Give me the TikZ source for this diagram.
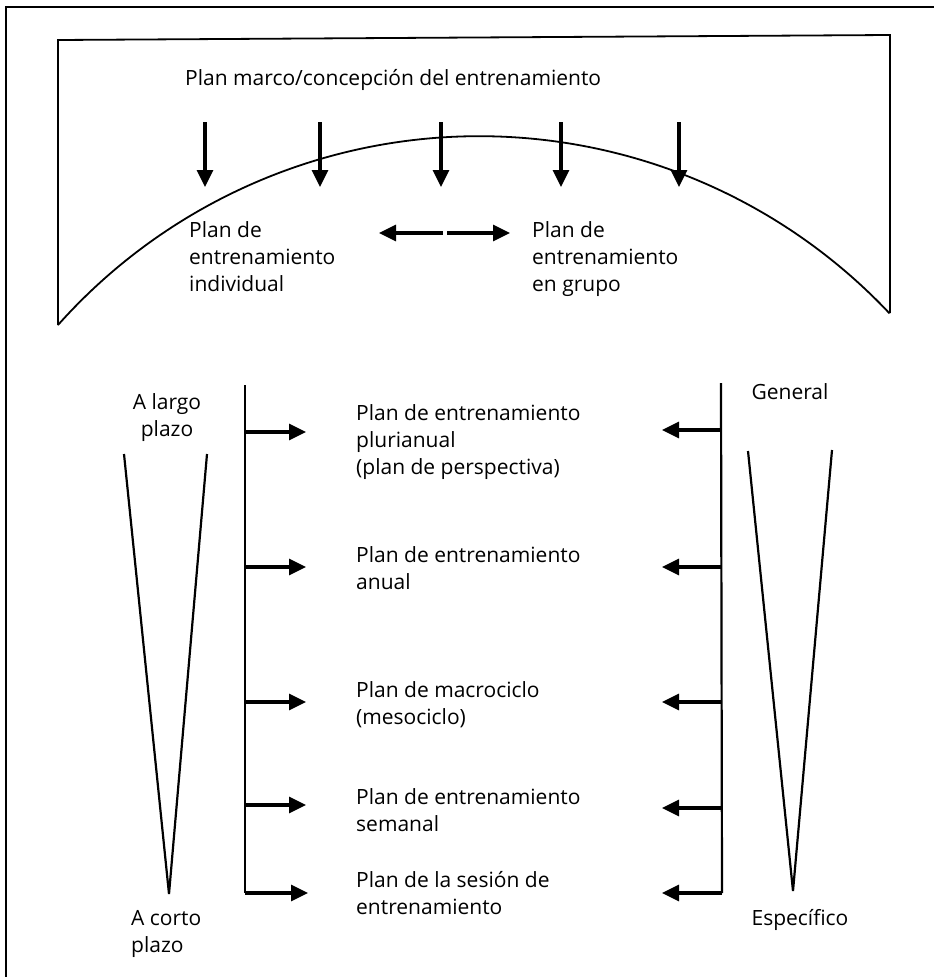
\documentclass[tikz,border=0pt]{standalone}
\usepackage{fontspec}
\setmainfont{Open Sans}
\usetikzlibrary{arrows.meta}
\begin{document}
\begin{tikzpicture}[x=1pt,y=-1pt,
  frame/.style={line width=1.4pt},
  panel/.style={line width=1.8pt},
  bar/.style={line width=2.2pt},
  flow/.style={line width=3.2pt,-{Triangle[length=17pt,width=16pt]}},
  lbl/.style={font=\fontsize{21}{27}\selectfont, inner sep=0pt, align=left, anchor=base west},
  lblc/.style={lbl, align=center, anchor=base},
]
\useasboundingbox (0,0) rectangle (934,977);

% outer frame
\draw[frame] (6,977) -- (6,7) -- (934,7);

% upper panel with the arch
\draw[panel] (58,325) -- (58,40) -- (890,35) -- (890,313);
\draw[panel] (58,325) arc[start angle=-138.3, end angle=-43.3, radius=564];

% (multi-line labels are placed by the baseline of their last line)
\node[lbl] (marco) at (185,85) {Plan marco/concepción del entrenamiento};

\foreach \i/\x in {1/205, 2/320, 3/441, 4/561, 5/679} {
  \coordinate (t\i) at (\x,122);
  \coordinate (b\i) at (\x,187);
  \draw[flow] (t\i) -- (b\i);
}

\node[lbl] (indiv) at (189,291) {Plan de\\entrenamiento\\individual};
\node[lbl] (grupo) at (532,291) {Plan de\\entrenamiento\\en grupo};

\coordinate (mL) at (443,233);
\coordinate (mR) at (447,233);
\coordinate (eL) at (379,233);
\coordinate (eR) at (510,233);
\draw[flow] (mL) -- (eL);
\draw[flow] (mR) -- (eR);

% lower part: time horizon (left) and specificity (right)
\node[lblc] (largo) at (167,436) {A largo\\plazo};
\node[lbl] (corto) at (131,952) {A corto\\plazo};
\node[lblc] (gen) at (790,399) {General};
\node[lblc] (esp) at (800,925) {Específico};

\draw[bar] (124,454) -- (169,894) -- (207,454);
\draw[bar] (748,451) -- (793,891) -- (832,450);

% plan levels
\node[lbl] (p1) at (356,474) {Plan de entrenamiento\\plurianual\\(plan de perspectiva)};
\node[lbl] (p2) at (356,589) {Plan de entrenamiento\\anual};
\node[lbl] (p3) at (356,724) {Plan de macrociclo\\(mesociclo)};
\node[lbl] (p4) at (356,831) {Plan de entrenamiento\\semanal};
\node[lbl] (p5) at (356,914) {Plan de la sesión de\\entrenamiento};

% left bar with arrows to the levels
\coordinate (lt) at (245,385);
\coordinate (lb) at (245,893);
\draw[bar] (lt) -- (lb);
\foreach \i/\y in {1/432, 2/567, 3/702, 4/805} {
  \coordinate (ls\i) at (245,\y);
  \coordinate (le\i) at (306,\y);
  \draw[flow] (ls\i) -- (le\i);
}
\coordinate (le5) at (308,893);
\draw[flow] (lb) -- (le5);

% right bar with arrows to the levels
\coordinate (rt) at (721,383);
\coordinate (rb) at (722,893);
\draw[bar] (rt) -- (rb);
\foreach \i/\y in {1/430, 2/567, 3/702, 4/808} {
  \coordinate (rs\i) at (721.5,\y);
  \coordinate (re\i) at (662,\y);
  \draw[flow] (rs\i) -- (re\i);
}
\coordinate (re5) at (662,893);
\draw[flow] (rb) -- (re5);
\end{tikzpicture}
\end{document}
